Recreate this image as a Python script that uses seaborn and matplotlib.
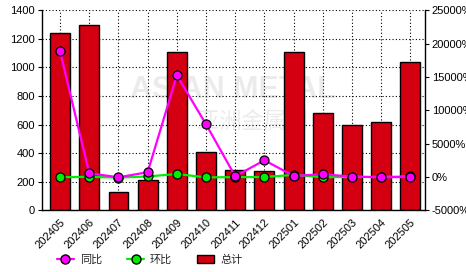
import numpy as np
import pandas as pd
import matplotlib
matplotlib.use("Agg")
import matplotlib.pyplot as plt
import seaborn as sns
from matplotlib.lines import Line2D
from matplotlib.patches import Patch
from matplotlib.ticker import FuncFormatter

months = ["202405", "202406", "202407", "202408", "202409", "202410", "202411",
          "202412", "202501", "202502", "202503", "202504", "202505"]
total = [1240, 1295, 125, 210, 1110, 405, 285, 272, 1110, 683, 600, 615, 1035]
yoy = [18850, 550, -50, 700, 15250, 7900, 100, 2500, 150, 400, 50, -50, 0]
mom = [-30, 4, -91, 71, 441, -64, -29, -5, 306, -38, -12, 2, 68]

left_ticks = [0, 200, 400, 600, 800, 1000, 1200, 1400]
right_ticks = [-5000, 0, 5000, 10000, 15000, 20000, 25000]

df = pd.DataFrame({"month": months, "total": total, "yoy": yoy, "mom": mom})

sns.set_style("white")
plt.rcParams["font.family"] = ["Liberation Sans", "Noto Sans CJK SC", "DejaVu Sans"]

RED = "#D40012"
MAG = "#FF00FF"
GRN = "#00EE00"

fig = plt.figure(figsize=(4.66, 2.72), dpi=100)
ax = fig.add_axes([0.090, 0.227, 0.822, 0.735])

sns.barplot(data=df, x="month", y="total", ax=ax, color=RED, width=0.68,
            edgecolor="black", linewidth=1.0, saturation=1)
ax.set_ylim(0, 1400)
ax.set_yticks(left_ticks)
ax.set_xlim(-0.62, 12.5)
ax.set_axisbelow(True)
ax.grid(True, axis="both", color="black", linestyle=(0, (1, 2)), linewidth=0.8)
ax.set_xlabel("")
ax.set_ylabel("")
ax.tick_params(axis="both", labelsize=8, length=3, width=0.8, direction="out",
               colors="black", pad=2)
ax.tick_params(axis="x", labelrotation=45)
for lbl in ax.get_xticklabels():
    lbl.set_ha("right")
    lbl.set_rotation_mode("anchor")
for s in ["top", "right"]:
    ax.spines[s].set_visible(False)
for s in ["left", "bottom"]:
    ax.spines[s].set_color("black")
    ax.spines[s].set_linewidth(1.0)

# watermark
ax.text(0.5, 0.6, "ASIAN METAL", transform=ax.transAxes, ha="center", va="center",
        fontsize=22, fontweight="bold", color="#dcdcdc", alpha=0.55, zorder=0.5)
ax.text(0.55, 0.44, "亚洲金属网", transform=ax.transAxes, ha="center", va="center",
        fontsize=16, color="#dcdcdc", alpha=0.55, zorder=0.5)

ax2 = ax.twinx()
sns.lineplot(data=df, x="month", y="mom", ax=ax2, color=GRN, linewidth=1.6,
             marker="o", markersize=6.5, markerfacecolor=GRN, markeredgecolor="black",
             markeredgewidth=0.9, sort=False, zorder=3)
sns.lineplot(data=df, x="month", y="yoy", ax=ax2, color=MAG, linewidth=1.6,
             marker="o", markersize=6.5, markerfacecolor=MAG, markeredgecolor="black",
             markeredgewidth=0.9, sort=False, zorder=4)
ax2.set_ylim(-5000, 25000)
ax2.set_yticks(right_ticks)
ax2.yaxis.set_major_formatter(FuncFormatter(lambda v, p: f"{int(v)}%"))
ax2.set_xlim(-0.62, 12.5)
ax2.set_ylabel("")
ax2.set_xlabel("")
ax2.tick_params(axis="y", labelsize=8, length=3, width=0.8, direction="out",
                colors="black", pad=2)
for s in ["top", "left", "bottom"]:
    ax2.spines[s].set_visible(False)
ax2.spines["right"].set_color("black")
ax2.spines["right"].set_linewidth(1.0)
ax2.grid(False)

handles = [
    Line2D([0], [0], color=MAG, linewidth=1.6, marker="o", markersize=6.5,
           markerfacecolor=MAG, markeredgecolor="black"),
    Line2D([0], [0], color=GRN, linewidth=1.6, marker="o", markersize=6.5,
           markerfacecolor=GRN, markeredgecolor="black"),
    Patch(facecolor=RED, edgecolor="black", linewidth=1.0),
]
fig.legend(handles, ["同比", "环比", "总计"], loc="center left",
           bbox_to_anchor=(0.10, 0.045), ncol=3, frameon=False, fontsize=8,
           handlelength=1.6, handletextpad=0.5, columnspacing=2.2)

fig.savefig("out.png", dpi=100)
